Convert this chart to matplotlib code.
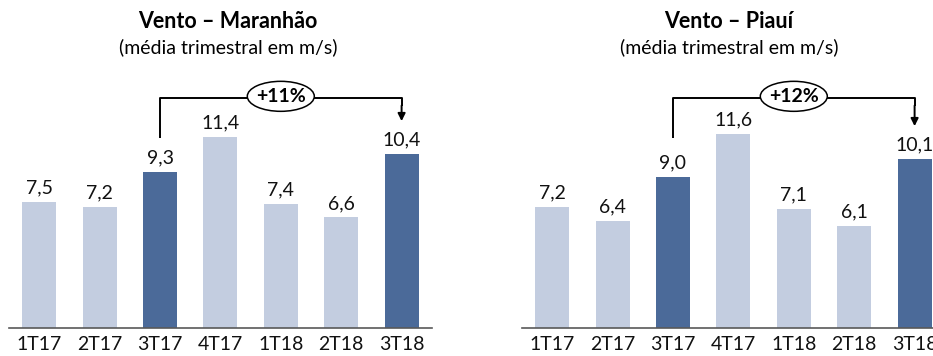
import matplotlib.pyplot as plt
from matplotlib.patches import Ellipse

# Data
quarters = ['1T17', '2T17', '3T17', '4T17', '1T18', '2T18', '3T18']
maranhao = [7.5, 7.2, 9.3, 11.4, 7.4, 6.6, 10.4]
piaui = [7.2, 6.4, 9.0, 11.6, 7.1, 6.1, 10.1]
highlight = ['3T17', '3T18']
growth_maranhao = '+11%'
growth_piaui = '+12%'

LIGHT = '#C3CDE0'
DARK = '#4B6A99'
FONT = 'Lato'

plt.rcParams['font.family'] = [FONT, 'DejaVu Sans']

W, H = 933, 356
fig = plt.figure(figsize=(W / 100, H / 100), dpi=100)

PX_PER_UNIT = 16.75
BASE_PX = 328  # baseline from the top


def fmt(v):
    return '{0:.1f}'.format(v).replace('.', ',')


def draw_panel(left_px, values, growth):
    width_px = 60.4 * 7
    ax = fig.add_axes([left_px / W, (H - BASE_PX) / H,
                       width_px / W, BASE_PX / H])
    ymax = BASE_PX / PX_PER_UNIT
    x = range(len(quarters))
    colors = [DARK if q in highlight else LIGHT for q in quarters]
    ax.bar(x, values, width=0.56, color=colors, edgecolor='none')
    for xi, v in zip(x, values):
        ax.annotate(fmt(v), (xi, v), xytext=(0, 4), textcoords='offset points',
                    ha='center', va='bottom', fontsize=14, color='#111111')
    ax.set_xlim(-0.5, 6.5)
    ax.set_ylim(0, ymax)
    ax.set_xticks(list(x))
    ax.set_xticklabels(quarters, fontsize=14)
    ax.tick_params(axis='x', length=0, pad=6, colors='#111111')
    ax.set_yticks([])
    for s in ['top', 'right', 'left']:
        ax.spines[s].set_visible(False)
    ax.spines['bottom'].set_color('#595959')
    ax.spines['bottom'].set_linewidth(1.2)

    # growth bracket from 3T17 to 3T18
    i0 = quarters.index(highlight[0])
    i1 = quarters.index(highlight[1])
    y_top = (BASE_PX - 98) / PX_PER_UNIT
    y_low = (BASE_PX - 138) / PX_PER_UNIT
    y_tip = values[i1] + 1.95
    ax.plot([i0, i0, i1, i1], [y_low, y_top, y_top, y_top - 0.5],
            color='black', lw=1.4, solid_capstyle='butt', clip_on=False)
    ax.annotate('', xy=(i1, y_tip), xytext=(i1, y_top - 0.45),
                arrowprops=dict(arrowstyle='-|>', color='black', lw=1.4,
                                mutation_scale=11, shrinkA=0, shrinkB=0))
    mid = (i0 + i1) / 2
    ax.add_patch(Ellipse((mid, y_top + 0.1), 67 / 60.4, 30 / PX_PER_UNIT,
                         facecolor='white', edgecolor='black', lw=1.1,
                         zorder=5, clip_on=False))
    ax.text(mid, y_top + 0.1, growth, ha='center', va='center',
            fontsize=14, fontweight='bold', zorder=6)
    return ax


draw_panel(9, maranhao, growth_maranhao)
draw_panel(522, piaui, growth_piaui)

for cx, name in [(228, 'Vento – Maranhão'), (729, 'Vento – Piauí')]:
    fig.text(cx / W, 1 - 22 / H, name, ha='center', va='center',
             fontsize=15.5, fontweight='bold')
    fig.text(cx / W, 1 - 47 / H, '(média trimestral em m/s)', ha='center',
             va='center', fontsize=14)

fig.savefig('out.png', dpi=100)
